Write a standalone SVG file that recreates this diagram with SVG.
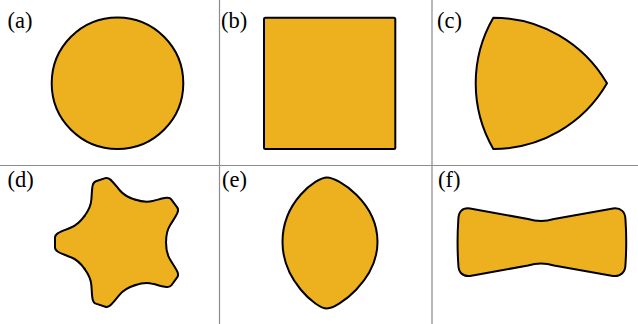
<svg xmlns="http://www.w3.org/2000/svg" width="638" height="324" viewBox="0 0 638 324">
<style>
.shape{fill:#EDB120;stroke:#000;stroke-width:2;stroke-linejoin:round}
.fillonly{fill:#EDB120;stroke:#EDB120;stroke-width:1}
.outline{fill:none;stroke:#000;stroke-width:2;stroke-linejoin:round;stroke-linecap:round}
.lbl{font-family:"Liberation Serif","Times New Roman",serif;font-size:22.5px;fill:#000}
.grid{stroke:#8c8c8c;stroke-width:1.2;fill:none}
</style>
<defs>
<path id="armFill" d="M0,0 L36.4,-26.5 C40.5,-20.8 44.4,-17.1 50,-14.9 C59,-11.1 66,-9.5 66,-5 L66,5 C66,9.5 59,11.1 50,14.9 C44.4,17.1 40.5,20.8 36.4,26.5 Z"/>
<path id="armLine" d="M36.4,-26.5 C40.5,-20.8 44.4,-17.1 50,-14.9 C59,-11.1 66,-9.5 66,-5 L66,5 C66,9.5 59,11.1 50,14.9 C44.4,17.1 40.5,20.8 36.4,26.5"/>
</defs>
<rect width="638" height="324" fill="#fff"/>
<g id="dividers">
<line class="grid" x1="219.5" y1="0" x2="219.5" y2="324"/>
<line class="grid" x1="432" y1="0" x2="432" y2="324"/>
<line class="grid" x1="0" y1="165.5" x2="638" y2="165.5"/>
</g>
<g id="panel-a">
<circle class="shape" cx="117.5" cy="83.2" r="65.8"/>
<text class="lbl" x="7.5" y="27.5">(a)</text>
</g>
<g id="panel-b">
<rect class="shape" x="264" y="17.7" width="131.3" height="131.3" rx="1.5"/>
<text class="lbl" x="221" y="27.5">(b)</text>
</g>
<g id="panel-c">
<path class="shape" d="M493.3,17.7 A131.3,131.3 0 0 1 607,83.35 A131.3,131.3 0 0 1 493.3,149 A131.3,131.3 0 0 1 493.3,17.7 Z"/>
<text class="lbl" x="437" y="27.5">(c)</text>
</g>
<g id="panel-d">
<g transform="translate(121,242.4)">
<use href="#armFill" class="fillonly" transform="rotate(36)"/>
<use href="#armFill" class="fillonly" transform="rotate(108)"/>
<use href="#armFill" class="fillonly" transform="rotate(180)"/>
<use href="#armFill" class="fillonly" transform="rotate(252)"/>
<use href="#armFill" class="fillonly" transform="rotate(324)"/>
<use href="#armLine" class="outline" transform="rotate(36)"/>
<use href="#armLine" class="outline" transform="rotate(108)"/>
<use href="#armLine" class="outline" transform="rotate(180)"/>
<use href="#armLine" class="outline" transform="rotate(252)"/>
<use href="#armLine" class="outline" transform="rotate(324)"/>
</g>
<text class="lbl" x="7.5" y="187">(d)</text>
</g>
<g id="panel-e">
<path class="shape" d="M327,177.5 C338,177.5 377.5,202 377.5,242 C377.5,280 338,308.5 327,308.5 C316,308.5 282.5,280 282.5,242 C282.5,202 316,177.5 327,177.5 Z"/>
<text class="lbl" x="222" y="187">(e)</text>
</g>
<g id="panel-f">
<path class="shape" d="M470,208.5 L528,219 Q541,223 554,219 L613,208.5 C621,207.5 625.5,212 625.5,220 C626.5,235 626.5,249 625.5,264 C625.5,272 621,276.8 613,276 L554,265.5 Q541,261.5 528,265.5 L470,276 C462,276.8 458.3,272 458.3,264 C457.3,249 457.3,235 458.3,220 C458.3,212 462,207.5 470,208.5 Z"/>
<text class="lbl" x="438" y="187">(f)</text>
</g>
</svg>
